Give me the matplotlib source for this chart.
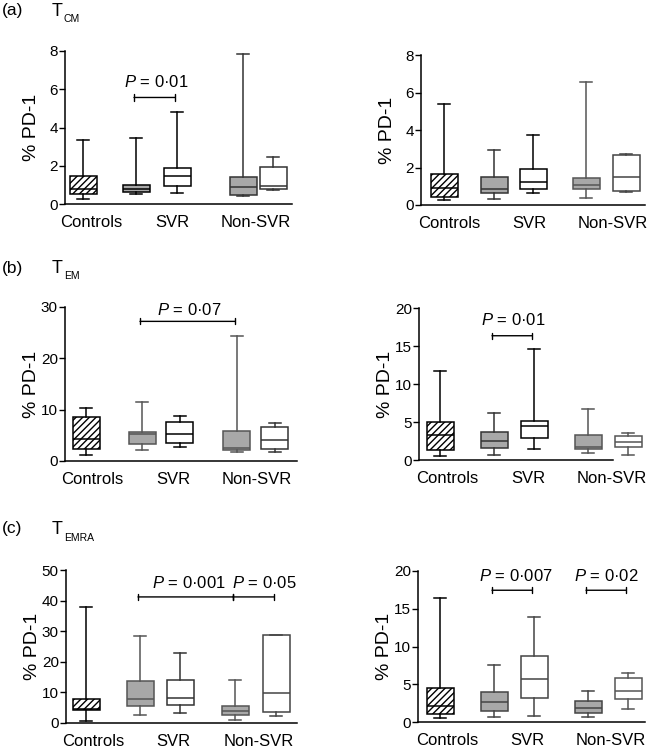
import matplotlib
matplotlib.use("Agg")
import matplotlib.pyplot as plt

plt.rcParams['font.family'] = ['Liberation Sans', 'DejaVu Sans']
plt.rcParams['mathtext.fontset'] = 'custom'
plt.rcParams['mathtext.rm'] = 'Liberation Sans'
plt.rcParams['mathtext.it'] = 'Liberation Sans:italic'
plt.rcParams['hatch.linewidth'] = 1.0

W, H = 650, 751

groups = ["Controls", "SVR", "Non-SVR"]

# each row: (whisker low, q1, median, q3, whisker high)
# order: Controls, SVR (grey), SVR (white), Non-SVR (grey), Non-SVR (white)
tcm_left = [(0.26, 0.52, 0.78, 1.44, 3.36),
            (0.54, 0.63, 0.78, 0.97, 3.44),
            (0.56, 0.92, 1.44, 1.86, 4.80),
            (0.40, 0.49, 0.89, 1.43, 7.84),
            (0.73, 0.80, 0.96, 1.91, 2.45)]
tcm_right = [(0.28, 0.44, 0.89, 1.64, 5.40),
             (0.30, 0.66, 0.84, 1.51, 2.91),
             (0.62, 0.84, 1.24, 1.94, 3.75),
             (0.36, 0.84, 1.05, 1.46, 6.56),
             (0.71, 0.76, 1.49, 2.65, 2.72)]
tem_left = [(1.11, 2.28, 4.24, 8.48, 10.37),
            (2.20, 3.39, 5.28, 5.67, 11.5),
            (2.74, 3.52, 5.35, 7.57, 8.8),
            (1.83, 2.20, 2.60, 5.87, 24.4),
            (1.70, 2.41, 4.17, 6.65, 7.5)]
tem_right = [(0.53, 1.32, 3.30, 4.97, 11.65),
             (0.66, 1.54, 2.46, 3.74, 6.15),
             (1.45, 2.86, 4.53, 5.14, 14.6),
             (0.97, 1.45, 1.67, 3.30, 6.68),
             (0.66, 1.76, 2.33, 3.20, 3.6)]
temra_left = [(0.6, 4.2, 4.6, 7.8, 38.0),
              (2.6, 5.5, 7.8, 13.6, 28.5),
              (3.3, 5.9, 8.15, 14.0, 23.0),
              (1.0, 2.6, 4.0, 5.5, 14.0),
              (2.3, 3.7, 9.8, 28.9, 28.9)]
temra_right = [(0.53, 1.05, 2.07, 4.48, 16.4),
               (0.70, 1.49, 2.64, 3.91, 7.56),
               (0.84, 3.20, 5.71, 8.79, 13.85),
               (0.62, 1.19, 1.80, 2.81, 4.13),
               (1.71, 3.03, 4.04, 5.80, 6.55)]

# significance bars: (box from, box to, bar height, P value)
p_tcm_left = [(1, 2, 5.57, "0·01")]
p_tcm_right = []
p_tem_left = [(1, 3, 27.2, "0·07")]
p_tem_right = [(1, 2, 16.35, "0·01")]
p_temra_left = [(1, 3, 41.2, "0·001"), (3, 4, 41.2, "0·05")]
p_temra_right = [(1, 2, 17.45, "0·007"), (3, 4, 17.45, "0·02")]

# layout in pixels: (left, top, right, bottom) of the axes frame
panels = [
    dict(data=tcm_left, p=p_tcm_left, rect=(65, 51, 292, 204), ymax=8, step=2,
         pos=[18, 71, 112, 178, 208], lab=[26, 107, 191], ptext=[(2, 6.4)],
         edge=['black', 'black', 'black', '#333', '#333']),
    dict(data=tcm_right, p=p_tcm_right, rect=(421, 55, 645, 205), ymax=8, step=2,
         pos=[23, 73, 112, 165, 205], lab=[28, 108, 192], ptext=[],
         edge=['black', '#333', 'black', '#555', '#444']),
    dict(data=tem_left, p=p_tem_left, rect=(65, 307, 297, 461), ymax=30, step=10,
         pos=[21, 77, 115, 172, 210], lab=[27, 108, 192], ptext=[(2, 29.5)],
         edge=['black', '#555', 'black', '#555', '#333']),
    dict(data=tem_right, p=p_tem_right, rect=(419, 308, 646, 460), ymax=20, step=5,
         pos=[21, 75, 115, 169, 209], lab=[28, 109, 193], ptext=[(1, 18.4)],
         edge=['black', '#333', 'black', '#555', '#555'], xend=194),
    dict(data=temra_left, p=p_temra_left, rect=(66, 570, 297, 723), ymax=50, step=10,
         pos=[20, 74, 114, 169, 210], lab=[27, 107, 193], ptext=[(3, 45.9), (11, 45.9)],
         edge=['black', '#555', '#333', '#555', '#444']),
    dict(data=temra_right, p=p_temra_right, rect=(418, 571, 645, 722), ymax=20, step=5,
         pos=[22, 76, 116, 170, 210], lab=[29, 109, 193], ptext=[(4, 19.4), (0, 19.4)],
         edge=['black', '#444', '#444', '#444', '#555']),
]

fig = plt.figure(figsize=(W / 100, H / 100), dpi=100)

for pn in panels:
    l, t, r, b = pn['rect']
    width = r - l
    ax = fig.add_axes([l / W, 1 - b / H, width / W, (b - t) / H])
    stats = [dict(whislo=v[0], q1=v[1], med=v[2], q3=v[3], whishi=v[4]) for v in pn['data']]
    art = ax.bxp(stats, positions=pn['pos'], widths=27, capwidths=12, showfliers=False,
                 patch_artist=True, manage_ticks=False)
    for i, box in enumerate(art['boxes']):
        ec = pn['edge'][i]
        if i == 0:
            box.set_facecolor('white')
            box.set_hatch('/////')
        elif i in (1, 3):
            box.set_facecolor('#a8a8a8')
        else:
            box.set_facecolor('white')
        box.set_edgecolor(ec)
        box.set_linewidth(1.1)
        box.set_clip_on(False)
        for ln in art['whiskers'][2 * i:2 * i + 2] + art['caps'][2 * i:2 * i + 2]:
            ln.set_color(ec)
            ln.set_linewidth(1.1)
            ln.set_clip_on(False)
        art['medians'][i].set_color(ec)
        art['medians'][i].set_linewidth(1.1)
        art['medians'][i].set_clip_on(False)

    for k, (i1, i2, y, pv) in enumerate(pn['p']):
        x1, x2 = pn['pos'][i1] - 2, pn['pos'][i2] - 2
        ax.annotate("", xy=(x1, y), xytext=(x2, y), annotation_clip=False,
                    arrowprops=dict(arrowstyle="|-|,widthA=0.22,widthB=0.22", lw=1.0,
                                    color='black', shrinkA=0, shrinkB=0))
        dx, ty = pn['ptext'][k]
        ax.text((x1 + x2) / 2 + dx, ty, r"$P$ = " + pv, ha='center', va='center',
                fontsize=12, clip_on=False)

    ax.set_xlim(0, width)
    ax.set_ylim(0, pn['ymax'])
    ax.set_yticks(range(0, pn['ymax'] + 1, pn['step']))
    ax.set_xticks(pn['lab'], groups)
    ax.tick_params(axis='x', length=0, pad=8, labelsize=12)
    ax.tick_params(axis='y', length=4.5, width=1, pad=0.7, labelsize=11)
    for s in ('top', 'right'):
        ax.spines[s].set_visible(False)
    for s in ('left', 'bottom'):
        ax.spines[s].set_linewidth(1.1)
    if 'xend' in pn:
        ax.spines['bottom'].set_bounds(0, pn['xend'])
    ax.set_ylabel("% PD-1", fontsize=14)
    ax.yaxis.set_label_coords(-25 / width, 0.5)

# panel letters and subset names
heads = [("(a)", 11, "CM", 19), ("(b)", 269, "EM", 276), ("(c)", 529, "EMRA", 538)]
for letter, y, sub, ys in heads:
    fig.text(2 / W, 1 - y / H, letter, fontsize=12.5, va='center', ha='left')
    fig.text(52 / W, 1 - y / H, "T", fontsize=13, va='center', ha='left')
    fig.text(64 / W, 1 - ys / H, sub, fontsize=7.5, va='center', ha='left')

fig.savefig("out.png", dpi=100)
